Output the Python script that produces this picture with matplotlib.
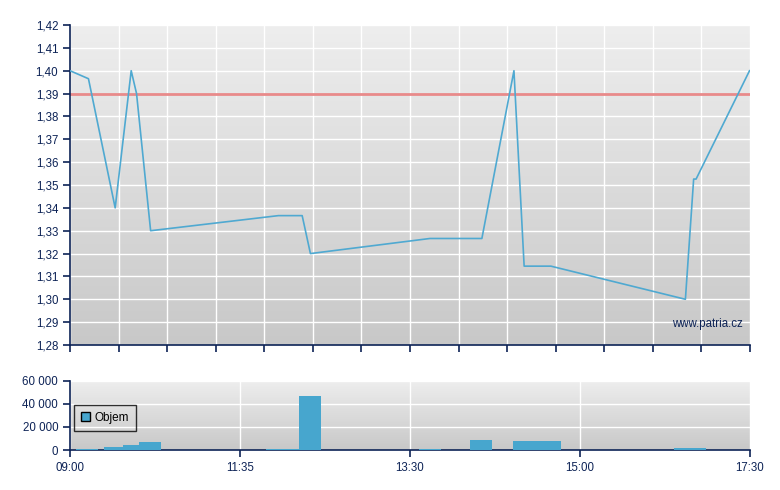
import numpy as np
import matplotlib
matplotlib.use('Agg')
import matplotlib.pyplot as plt
from matplotlib.ticker import FuncFormatter
from matplotlib.patches import Patch

plt.rcParams['font.family'] = ['Liberation Sans', 'DejaVu Sans']

# price line, x in grid steps (14 steps from 09:00 to 17:30)
price_x = [0.0, 0.38, 0.93, 1.26, 1.37, 1.66, 4.29, 4.78, 4.95, 7.41, 8.48,
           9.14, 9.35, 9.9, 12.67, 12.84, 12.89, 13.99]
price_y = [1.400, 1.3965, 1.340, 1.400, 1.390, 1.330, 1.3366, 1.3366, 1.320,
           1.3266, 1.3266, 1.400, 1.3145, 1.3145, 1.300, 1.3526, 1.3526, 1.400]
prev_close = 1.39

# volume bars
vol_left = [0.12, 0.70, 1.09, 1.42, 4.04, 4.71, 7.19, 8.24, 9.12, 12.44]
vol_width = [0.45, 0.39, 0.33, 0.45, 0.68, 0.45, 0.45, 0.45, 0.99, 0.66]
vol_values = [1000, 2700, 4300, 7000, 800, 46500, 800, 8700, 7800, 1700]

time_ticks = [0, 3.5, 7, 10.5, 14]
time_labels = ['09:00', '11:35', '13:30', '15:00', '17:30']

navy = '#0d2356'
blue = '#47a6ce'

fig = plt.figure(figsize=(7.8, 4.9), dpi=100)
ax1 = fig.add_axes([70 / 780, 145 / 490, 680 / 780, 320 / 490])
ax2 = fig.add_axes([70 / 780, 40 / 490, 680 / 780, 69.3 / 490])

grad = np.linspace(0, 1, 256).reshape(-1, 1)
for ax in (ax1, ax2):
    ax.imshow(grad, extent=[0, 1, 0, 1], transform=ax.transAxes, aspect='auto',
              cmap=matplotlib.colors.LinearSegmentedColormap.from_list('g', ['#eeeeee', '#c8c8c8']),
              zorder=0)
    ax.set_axisbelow(True)
    ax.grid(True, color='white', linewidth=1.0)
    for s in ('top', 'right'):
        ax.spines[s].set_visible(False)
    for s in ('left', 'bottom'):
        ax.spines[s].set_color(navy)
        ax.spines[s].set_linewidth(1.2)
    ax.tick_params(colors=navy, labelcolor=navy, length=5, width=1.2, labelsize=8.3)
    ax.set_xlim(0, 14)

# price chart
ax1.plot(price_x, price_y, color='#4fa9d1', linewidth=1.2, zorder=3)
ax1.axhline(prev_close, color='#e88a8a', linewidth=2, zorder=2)
ax1.set_ylim(1.28, 1.42)
ax1.set_yticks(np.round(np.arange(1.28, 1.4201, 0.01), 2))
ax1.yaxis.set_major_formatter(FuncFormatter(lambda v, p: f'{v:.2f}'.replace('.', ',')))
ax1.set_xticks(range(15))
ax1.set_xticklabels([])
ax1.text(0.99, 0.065, 'www.patria.cz', transform=ax1.transAxes, ha='right', va='center',
         color=navy, fontsize=8.3)

# volume chart
ax2.bar(vol_left, vol_values, width=vol_width, align='edge', color=blue, zorder=3)
ax2.set_ylim(0, 60000)
ax2.set_yticks([0, 20000, 40000, 60000])
ax2.yaxis.set_major_formatter(FuncFormatter(lambda v, p: f'{int(v):,}'.replace(',', ' ')))
ax2.set_xticks(time_ticks)
ax2.set_xticklabels(time_labels)
leg = ax2.legend(handles=[Patch(facecolor=blue, edgecolor='black', label='Objem')],
                 loc='upper left', bbox_to_anchor=(0.006, 0.655), borderaxespad=0,
                 frameon=True, fancybox=False, fontsize=8.5, handlelength=0.75,
                 handleheight=0.75, borderpad=0.6, handletextpad=0.35)
leg.get_frame().set_edgecolor('black')
leg.get_frame().set_facecolor('none')
leg.get_frame().set_linewidth(1.0)

fig.savefig('out.png', dpi=100)
